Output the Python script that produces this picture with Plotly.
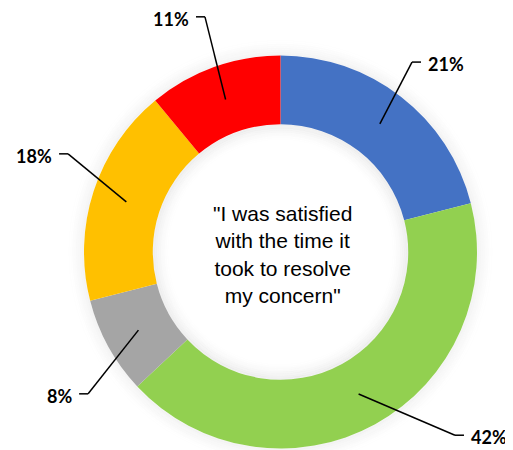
import math
import plotly.graph_objects as go

# ---- data ----
categories = ["Strongly agree", "Agree", "Neutral", "Disagree", "Strongly disagree"]
values = [21, 42, 8, 18, 11]
label_texts = ["21%", "42%", "8%", "18%", "11%"]
colors = ["#4472C4", "#92D050", "#A5A5A5", "#FFC000", "#FF0000"]
center_text = '"I was satisfied<br>with the time it<br>took to resolve<br>my concern"'

# ---- layout (pixels in the 513x450 window; page body has an 8px margin) ----
OFF = 8
W, H = 513 - OFF, 450 - OFF
CX, CY, R = 280.5, 252.0, 196.5
HOLE = 0.65
# elbow of each leader line: (radius px, angle deg clockwise from 12 o'clock, side)
elbows = [(231, 34.7, 1), (253, 136.4, 1), (239, 233.6, -1), (234, 294.8, -1), (247, 342.2, -1)]


def px(x, y):
    return (x - OFF) / W, 1 - (y - OFF) / H


dx0, dy1 = px(CX - R, CY - R)
dx1, dy0 = px(CX + R, CY + R)
fig = go.Figure(go.Pie(
    labels=categories, values=values, sort=False, direction="clockwise", rotation=0,
    hole=HOLE, marker=dict(colors=colors, line=dict(width=0)), textinfo="none",
    hoverinfo="label+percent", showlegend=False,
    domain=dict(x=[dx0, dx1], y=[dy0, dy1]),
))

shapes = []


def ring(rr, op, layer):
    x0, y0 = px(CX - rr, CY - rr)
    x1, y1 = px(CX + rr, CY + rr)
    return dict(type="circle", xref="paper", yref="paper", x0=x0, y0=y1, x1=x1, y1=y0,
                line=dict(color=f"rgba(0,0,0,{op:.4f})", width=2.2), layer=layer)


# soft shadow outside the ring
for k in range(8):
    shapes.append(ring(R + 1 + 2 * k, 0.045 * (1 - k / 8) ** 1.5, "below"))
# soft inner shadow inside the hole
rin = R * HOLE
for k in range(8):
    shapes.append(ring(rin - 1 - 2 * k, 0.06 * (1 - k / 8) ** 1.5, "above"))

annotations = []
total = sum(values)
cum = 0
rmid = (R + rin) / 2
for v, txt, (re, ang, side) in zip(values, label_texts, elbows):
    mid = (cum + v / 2) / total * 2 * math.pi
    cum += v
    ax_, ay_ = CX + rmid * math.sin(mid), CY - rmid * math.cos(mid)
    a = math.radians(ang)
    ex, ey = CX + re * math.sin(a), CY - re * math.cos(a)
    hx = ex + side * 9
    for (p0, p1) in [((ax_, ay_), (ex, ey)), ((ex, ey), (hx, ey))]:
        x0, y0 = px(*p0)
        x1, y1 = px(*p1)
        shapes.append(dict(type="line", xref="paper", yref="paper", x0=x0, y0=y0, x1=x1, y1=y1,
                           line=dict(color="black", width=1.5), layer="above"))
    tx, ty = px(hx + side * 5, ey + 2)
    annotations.append(dict(x=tx, y=ty, xref="paper", yref="paper", text=f"<b>{txt}</b>",
                            showarrow=False, xanchor="left" if side > 0 else "right",
                            yanchor="middle", font=dict(family="Lato", size=18, color="black")))

cx_, cy_ = px(282, 254.5)
annotations.append(dict(x=cx_, y=cy_, xref="paper", yref="paper", text=center_text,
                        showarrow=False, xanchor="center", yanchor="middle", align="center",
                        font=dict(family="Liberation Sans, Arial", size=21, color="black")))

fig.update_layout(width=W, height=H, margin=dict(l=0, r=0, t=0, b=0),
                  paper_bgcolor="white", plot_bgcolor="white",
                  shapes=shapes, annotations=annotations)
fig.write_html("out.html")
